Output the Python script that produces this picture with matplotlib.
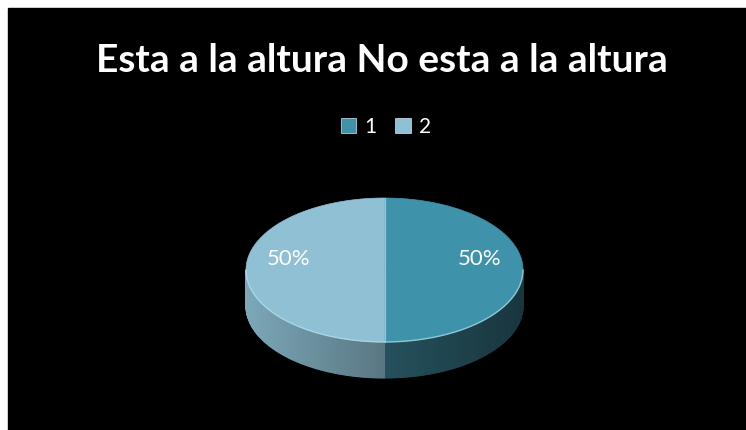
import matplotlib.pyplot as plt
import numpy as np
from matplotlib.colors import to_rgb
from matplotlib.patches import Polygon, Rectangle, Patch

# data
labels = ['1', '2']
values = [50, 50]
top_colors = ['#3e93ab', '#8fc0d4']
side_colors = [('#25525e', '#19363e'), ('#5a7884', '#7ca8b8')]  # (near center, outer)
title = 'Esta a la altura No esta a la altura'

W, H = 746, 430
fig = plt.figure(figsize=(W / 100, H / 100), dpi=100)
fig.patch.set_facecolor('white')
ax = fig.add_axes([0, 0, 1, 1])
ax.set_xlim(0, W)
ax.set_ylim(H, 0)
ax.axis('off')
ax.add_patch(Rectangle((8, 8), W - 8, H - 8, color='black', zorder=0))

# pseudo-3d pie geometry (pixels)
cx, cy, rx, ry, depth = 384.5, 270, 138.5, 72, 36


def pt(theta_deg, dy=0.0):
    t = np.radians(theta_deg)
    return cx + rx * np.cos(t), cy - ry * np.sin(t) + dy


fracs = np.array(values, dtype=float) / sum(values)
starts = 90 - 360 * np.concatenate([[0], np.cumsum(fracs)[:-1]])
ends = starts - 360 * fracs

# sides (front half only, theta in [180, 360])
for i in range(len(values)):
    a1, a2 = ends[i], starts[i]
    segs = []
    for off in (-360, 0, 360):
        lo, hi = max(a1 + off, 180), min(a2 + off, 360)
        if hi > lo:
            segs.append((lo, hi))
    c_in = np.array(to_rgb(side_colors[i][0]))
    c_out = np.array(to_rgb(side_colors[i][1]))
    for lo, hi in segs:
        th = np.linspace(lo, hi, 90)
        for k in range(len(th) - 1):
            tm = 0.5 * (th[k] + th[k + 1])
            w = abs(np.cos(np.radians(tm)))
            col = c_in + (c_out - c_in) * w
            p1, p2 = pt(th[k]), pt(th[k + 1])
            q2, q1 = pt(th[k + 1], depth), pt(th[k], depth)
            ax.add_patch(Polygon([p1, p2, q2, q1], closed=True, facecolor=col,
                                 edgecolor=col, linewidth=0.8, zorder=2))

# top faces
for i in range(len(values)):
    th = np.linspace(starts[i], ends[i], 200)
    pts = [(cx, cy)] + [pt(t) for t in th]
    ax.add_patch(Polygon(pts, closed=True, facecolor=top_colors[i],
                         edgecolor=top_colors[i], linewidth=0.5, zorder=3))

# rim highlight and slice divider
th = np.linspace(180, 360, 200)
rim = np.array([pt(t) for t in th])
ax.plot(rim[:, 0], rim[:, 1], color='#b5e2f0', lw=1.0, alpha=0.7, zorder=4)
for s in starts:
    x0, y0 = pt(s)
    ax.plot([cx, x0], [cy, y0], color='#a9d3e2', lw=0.8, alpha=0.8, zorder=4)

# data labels
for i in range(len(values)):
    mid = 0.5 * (starts[i] + ends[i])
    lx = cx + 0.69 * rx * np.cos(np.radians(mid))
    ly = cy - 0.69 * ry * np.sin(np.radians(mid)) - 11
    ax.text(lx, ly, f'{values[i]:.0f}%', color='white', fontsize=16,
            family='Lato', ha='center', va='center', zorder=5)

# title
fig.text(382 / W, 1 - 60 / H, title, color='white', fontsize=28,
         family='Lato', weight='bold', ha='center', va='center')

# legend
handles = [Patch(facecolor=c, edgecolor='#cfeaf3', linewidth=0.5, label=l)
           for c, l in zip(top_colors, labels)]
leg = ax.legend(handles=handles, loc='center', ncol=2, frameon=False,
                bbox_to_anchor=(386 / W, 1 - 127 / H), bbox_transform=fig.transFigure,
                handlelength=0.75, handleheight=0.75, handletextpad=0.4,
                columnspacing=0.9, prop={'family': 'Lato', 'size': 15})
for t in leg.get_texts():
    t.set_color('white')

fig.savefig('out.png', dpi=100, facecolor=fig.get_facecolor())
